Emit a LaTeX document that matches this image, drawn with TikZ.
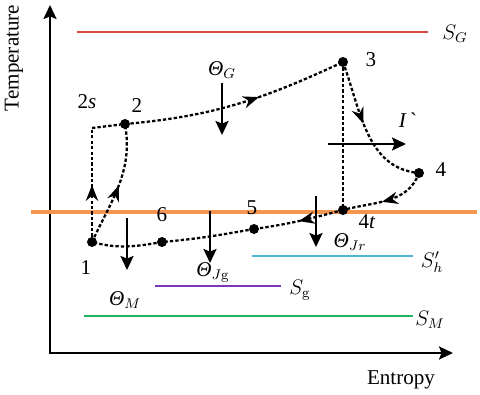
\documentclass[tikz,border=0pt]{standalone}
\usepackage[no-math]{fontspec}
\setmainfont{Liberation Serif}
\usetikzlibrary{arrows.meta, decorations.markings}

\definecolor{gasred}{RGB}{220,75,65}
\definecolor{ambor}{RGB}{245,150,80}
\definecolor{hcyan}{RGB}{80,180,215}
\definecolor{gpurple}{RGB}{125,55,185}
\definecolor{mgreen}{RGB}{35,180,95}

\begin{document}
\begin{tikzpicture}[>=Stealth, font=\fontsize{12}{14}\selectfont,
  cyc/.style={line width=1.3pt, dash pattern=on 1.9pt off 1.2pt},
  midarrow/.style={postaction={decorate, decoration={markings,
      mark=at position #1 with {\arrow{Stealth[length=9pt,width=7pt]}}}}},
  heat/.style={-{Stealth[length=8pt,width=7.5pt,inset=1.5pt]}, line width=1pt},
  level/.style={line width=0.9pt}]

\useasboundingbox (-1,-0.84) rectangle (8.6,7.06);

%-- axes
\coordinate (Ty) at (0,6.96);
\coordinate (Sx) at (8.06,0);
\draw[line width=1pt, {Stealth[length=8pt,width=7.5pt,inset=1.5pt]}-{Stealth[length=8pt,width=7.5pt,inset=1.5pt]}]
  (Ty) |- (Sx);
\node[rotate=90] (tlab) at (-0.72,5.9) {Temperature};
\node (elab) at (7.02,-0.54) {Entropy};

%-- temperature levels
\coordinate (SGa) at (0.54,6.42);  \coordinate (SGb) at (7.56,6.42);
\coordinate (AMa) at (-0.38,2.82); \coordinate (AMb) at (8.54,2.82);
\coordinate (Sha) at (4.04,1.94);  \coordinate (Shb) at (7.26,1.94);
\coordinate (Sga) at (2.10,1.34);  \coordinate (Sgb) at (4.62,1.34);
\coordinate (SMa) at (0.68,0.74);  \coordinate (SMb) at (7.26,0.74);

\draw[level, gasred]  (SGa)--(SGb);
\draw[ambor, line width=2.3pt] (AMa)--(AMb);
\draw[level, hcyan]   (Sha)--(Shb);
\draw[level, gpurple] (Sga)--(Sgb);
\draw[level, mgreen]  (SMa)--(SMb);

\node (SGl) at (8.10,6.38) {$S_G$};
\node (Shl) at (7.64,1.82) {$S'_h$};
\node (Sgl) at (5.00,1.26) {$S_{\mathrm{g}}$};
\node (SMl) at (7.60,0.66) {$S_M$};

%-- state points
\coordinate (P1)  at (0.84,2.22);
\coordinate (P2s) at (0.84,4.50);
\coordinate (P2)  at (1.50,4.58);
\coordinate (P3)  at (5.86,5.82);
\coordinate (P4)  at (7.38,3.60);
\coordinate (P4t) at (5.86,2.86);
\coordinate (P5)  at (4.08,2.48);
\coordinate (P6)  at (2.24,2.22);

%-- cycle
\draw[cyc, midarrow=0.5] (P1) -- (P2s);
\draw[cyc] (P2s) -- (P2);
\draw[cyc, midarrow=0.5] (P1) to[out=65,in=-80] (P2);
\draw[cyc, midarrow=0.6] (P2) to[out=5,in=-155] (P3);
\draw[cyc, midarrow=0.45] (P3) to[out=-70,in=175] (P4);
\draw[cyc] (P3) -- (P4t);
\draw[cyc, midarrow=0.55] (P4) to[out=-110,in=15] (P4t);
\draw[cyc, midarrow=0.5] (P4t) to[out=-165,in=8] (P5);
\draw[cyc] (P5) to[out=-170,in=5] (P6);
\draw[cyc] (P6) to[out=190,in=-15] (P1);

\foreach \p in {P1,P2,P3,P4,P4t,P5,P6}
  \fill[black] (\p) circle (0.1);

%-- point labels
\node (L1)  at (0.72,1.70) {1};
\node (L2s) at (0.74,5.02) {2\textit{s}};
\node (L2)  at (1.74,4.94) {2};
\node (L3)  at (6.42,5.86) {3};
\node (L4)  at (7.82,3.66) {4};
\node (L4t) at (6.34,2.62) {4\textit{t}};
\node (L5)  at (4.04,2.90) {5};
\node (L6)  at (2.24,2.76) {6};

%-- heat flows
\coordinate (QGa)  at (3.44,5.40); \coordinate (QGb)  at (3.44,4.36);
\coordinate (QMa)  at (1.54,2.70); \coordinate (QMb)  at (1.54,1.66);
\coordinate (QJga) at (3.20,2.84); \coordinate (QJgb) at (3.20,1.80);
\coordinate (QJra) at (5.32,3.14); \coordinate (QJrb) at (5.32,2.12);
\coordinate (Ia)   at (5.56,4.18); \coordinate (Ib)   at (7.12,4.18);

\draw[heat] (QGa)--(QGb);
\draw[heat] (QMa)--(QMb);
\draw[heat] (QJga)--(QJgb);
\draw[heat] (QJra)--(QJrb);
\draw[heat] (Ia)--(Ib);

\node (QGl)  at (3.44,5.66) {\textit{Θ}$_G$};
\node (QMl)  at (1.50,1.06) {\textit{Θ}$_M$};
\node (QJgl) at (3.26,1.62) {\textit{Θ}$_{J\mathrm{g}}$};
\node (QJrl) at (6.00,2.22) {\textit{Θ}$_{Jr}$};
\node (Il)   at (7.16,4.66) {\textit{I}\,\textasciigrave};

\end{tikzpicture}
\end{document}
